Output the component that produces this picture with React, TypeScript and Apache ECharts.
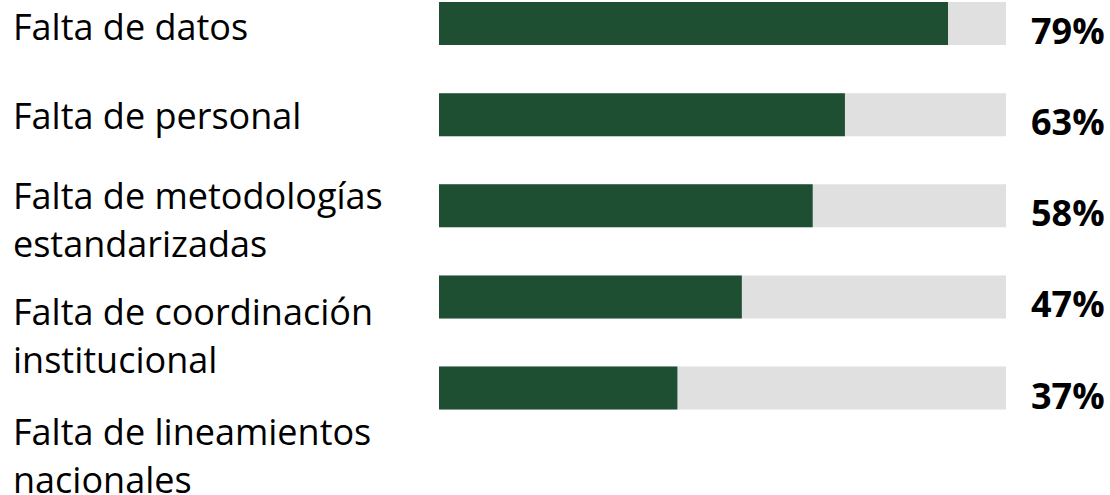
import React, { useEffect, useRef } from "react";
import * as echarts from "echarts";

const categories = [
  "Falta de datos",
  "Falta de personal",
  "Falta de metodologías\nestandarizadas",
  "Falta de coordinación\ninstitucional",
  "Falta de lineamientos\nnacionales",
];
const values = [79, 63, 58, 47, 37];
const percentLabels = values.map((v) => `${v}%`);

// vertical nudges (px) of each category label block (layout only)
const labelGaps = [6, 2, 27, 77, 135];

export default function App() {
  const ref = useRef<HTMLDivElement>(null);
  useEffect(() => {
    if (!ref.current) return;
    const chart = echarts.init(ref.current, null, { renderer: "svg" });
    const gapRich: Record<string, any> = {};
    labelGaps.forEach((g, i) => {
      gapRich[`g${i}`] = { lineHeight: g, fontSize: 1, height: g };
    });
    chart.setOption({
      animation: false,
      backgroundColor: "#ffffff",
      grid: {
        left: 439,
        right: 104,
        top: 23.5,
        height: 364.5,
        containLabel: false,
        outerBoundsMode: "none",
      },
      xAxis: { type: "value", min: 0, max: 88, show: false },
      yAxis: [
        {
          type: "category",
          inverse: true,
          boundaryGap: false,
          data: categories,
          axisLine: { show: false },
          axisTick: { show: false },
          splitLine: { show: false },
          axisLabel: {
            interval: 0,
            hideOverlap: false,
            align: "left",
            margin: 426,
            verticalAlign: "middle",
            formatter: (value: string, index: number) =>
              `{g${index}| }\n` +
              value
                .split("\n")
                .map((l) => `{t|${l}}`)
                .join("\n"),
            rich: {
              ...gapRich,
              t: {
                fontFamily: "Open Sans",
                fontSize: 36,
                lineHeight: 48,
                color: "#000000",
              },
            },
          },
        },
        {
          type: "category",
          inverse: true,
          boundaryGap: false,
          position: "right",
          data: percentLabels,
          axisLine: { show: false },
          axisTick: { show: false },
          splitLine: { show: false },
          axisLabel: {
            interval: 0,
            align: "left",
            margin: 25,
            verticalAlign: "middle",
            formatter: (value: string) => `{g| }\n{p|${value}}`,
            rich: {
              g: { lineHeight: 14, height: 14, fontSize: 1 },
              p: {
                fontFamily: "Open Sans",
                fontWeight: "bold",
                fontSize: 36,
                lineHeight: 40,
                color: "#000000",
              },
            },
          },
        },
      ],
      series: [
        {
          type: "bar",
          yAxisIndex: 0,
          data: values,
          barWidth: 43,
          itemStyle: { color: "#1F4F33" },
          showBackground: true,
          backgroundStyle: { color: "#E0E0E0" },
        },
      ],
    });
    return () => chart.dispose();
  }, []);
  return (
    <div
      ref={ref}
      style={{ position: "absolute", left: 0, top: 0, width: 1110, height: 495 }}
    />
  );
}
